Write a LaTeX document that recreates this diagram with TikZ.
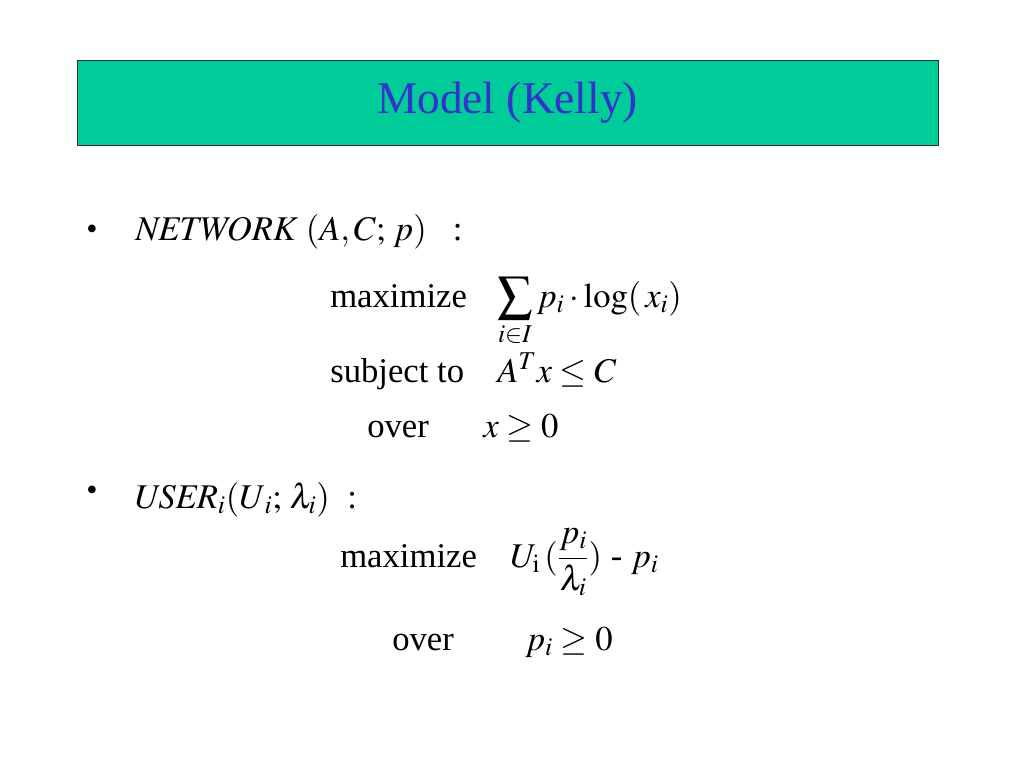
\documentclass[tikz,border=0pt]{standalone}
\usepackage{mathptmx}
\usepackage{fontspec}
\setmainfont{Liberation Serif}
\usetikzlibrary{positioning}
\definecolor{slidegreen}{RGB}{0,204,153}
\definecolor{titleblue}{RGB}{51,51,204}

\begin{document}
\begin{tikzpicture}[x=0.75pt, y=-0.75pt,
        titlebox/.style={rectangle, draw=black!80, fill=slidegreen, minimum width=645.75pt, minimum height=63.75pt, inner sep=0pt, font=\fontsize{34}{40}\selectfont, text=titleblue},
        body/.style={anchor=base west, inner sep=0pt, font=\fontsize{26}{31}\selectfont},
        bullet/.style={body, font=\fontsize{24}{30}\selectfont}
    ]
        \useasboundingbox (0,0) rectangle (1024,768);

        % Title
        \node[titlebox] (title) at (507.5,102.5) {Model (Kelly)};

        % Bullets
        \foreach \y/\n in {239/1, 500/2} {
            \node[bullet] (dot\n) at (86,\y) {\textbullet};
        }

        % Network problem
        \node[body] (net) at (135,240) {$\mathit{NETWORK}\;(A,C;\,p)$\ \ \ :};
        \foreach \x/\y/\t/\n in {330/307/maximize/max1, 330/382/subject to/sub1, 367/437/over/over1} {
            \node[body] (\n) at (\x,\y) {\t};
        }
        \node[body] (obj1) at (497,307) {$\displaystyle\sum_{i\in I} p_i\cdot\log(\,x_i)$};
        \node[body] (con1) at (497,382) {$A^T x\le C$};
        \node[body] (dom1) at (483,437) {$x\ge 0$};

        % User problem
        \node[body] (user) at (133,508) {$\mathit{USER}_i(U_{\,i};\,\lambda_i)$\ \ :};
        \foreach \x/\y/\t/\n in {340/567/maximize/max2, 392/650/over/over2} {
            \node[body] (\n) at (\x,\y) {\t};
        }
        \node[body] (obj2) at (510,567) {$U_{\mathrm{i}}\,(\displaystyle\frac{p_i}{\lambda_i})$ - $p_i$};
        \node[body] (dom2) at (525,650) {$p_i\ge 0$};
    \end{tikzpicture}
\end{document}
